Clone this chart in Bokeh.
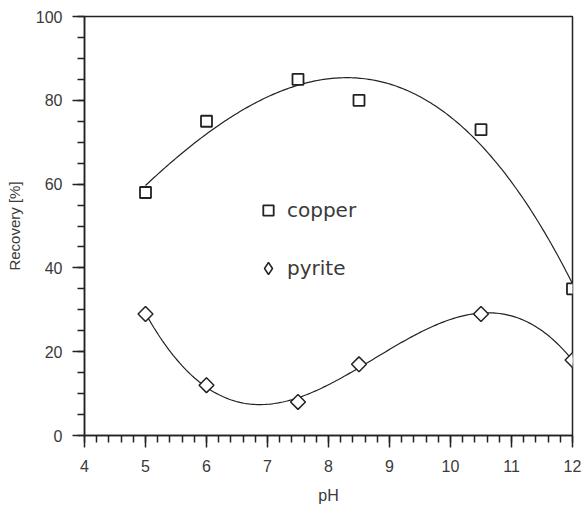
import numpy as np
from bokeh.plotting import figure
from bokeh.models import Range1d, FixedTicker, Legend, LegendItem, ColumnDataSource
from bokeh.embed import file_html
from bokeh.resources import INLINE

ph = [5, 6, 7.5, 8.5, 10.5, 12]
copper = [58, 75, 85, 80, 73, 35]
pyrite = [29, 12, 8, 17, 29, 18]
x_ticks = [4, 5, 6, 7, 8, 9, 10, 11, 12]
y_ticks = [0, 20, 40, 60, 80, 100]

FONT = "Liberation Sans"
INK = "#222222"
TXT = "#3a3a3a"

p = figure(width=584, height=508, output_backend="svg", toolbar_location=None,
           x_range=Range1d(4, 12), y_range=Range1d(0, 100),
           min_border_left=84, min_border_top=16, min_border_right=12, min_border_bottom=73)
p.grid.visible = False
p.background_fill_color = "white"
p.border_fill_color = "white"
p.outline_line_color = INK
p.outline_line_width = 1.5

# fitted trend curves (least-squares polynomials through the measured points)
xs = np.linspace(min(ph), max(ph), 200)
cu_fit = np.polyval(np.polyfit(ph, copper, 3), xs)
py_fit = np.polyval(np.polyfit(ph, pyrite, 4), xs)
p.line(xs, cu_fit, line_color=INK, line_width=1.2)
p.line(xs, py_fit, line_color=INK, line_width=1.2)

src = ColumnDataSource(dict(ph=ph, copper=copper, pyrite=pyrite))
# legend key renderer for pyrite (legend keys ignore marker angle); drawn small so the
# rotated-square markers below cover it completely
key_py = p.scatter("ph", "pyrite", source=src, marker="diamond", size=8,
                   fill_color="white", line_color=INK, line_width=1.5)
r_cu = p.scatter("ph", "copper", source=src, marker="square", size=11,
                 fill_color="white", line_color=INK, line_width=1.8)
r_py = p.scatter("ph", "pyrite", source=src, marker="square", size=10.5, angle=np.pi / 4,
                 fill_color="white", line_color=INK, line_width=1.5)

# axes
xa = p.xaxis[0]
xa.ticker = FixedTicker(ticks=x_ticks, minor_ticks=list(np.round(np.arange(4, 12.001, 0.2), 2)))
xa.axis_label = "pH"
ya = p.yaxis[0]
ya.ticker = FixedTicker(ticks=y_ticks, minor_ticks=list(range(0, 101, 5)))
ya.axis_label = "Recovery [%]"
for ax in (xa, ya):
    ax.axis_line_color = INK
    ax.axis_line_width = 1.5
    ax.major_tick_line_color = INK
    ax.minor_tick_line_color = INK
    ax.major_tick_line_width = 1.5
    ax.minor_tick_line_width = 1.5
    ax.major_tick_in = 0
    ax.minor_tick_in = 0
    ax.major_label_text_font = FONT
    ax.major_label_text_font_size = "16px"
    ax.major_label_text_color = TXT
    ax.axis_label_text_font = FONT
    ax.axis_label_text_font_style = "normal"
    ax.axis_label_text_color = TXT
xa.major_tick_out = 12
xa.minor_tick_out = 7
xa.major_label_standoff = 12
xa.axis_label_text_font_size = "16px"
xa.axis_label_standoff = 12
ya.major_tick_out = 12
ya.minor_tick_out = 7
ya.major_label_standoff = 10
ya.axis_label_text_font_size = "15px"
ya.axis_label_standoff = 10

common = dict(orientation="vertical", padding=0, margin=0,
              label_height=20, label_text_font="DejaVu Sans", label_text_font_size="20px",
              label_text_color=TXT, border_line_color=None, background_fill_alpha=0)
leg_cu = Legend(items=[LegendItem(label="copper", renderers=[r_cu])],
                location=(171, 212), glyph_width=26, glyph_height=26, label_standoff=6, **common)
leg_py = Legend(items=[LegendItem(label="pyrite", renderers=[key_py])],
                location=(169, 152), glyph_width=30, glyph_height=30, label_standoff=4, **common)
p.add_layout(leg_cu, "center")
p.add_layout(leg_py, "center")

open("out.html", "w").write(file_html(p, INLINE))
